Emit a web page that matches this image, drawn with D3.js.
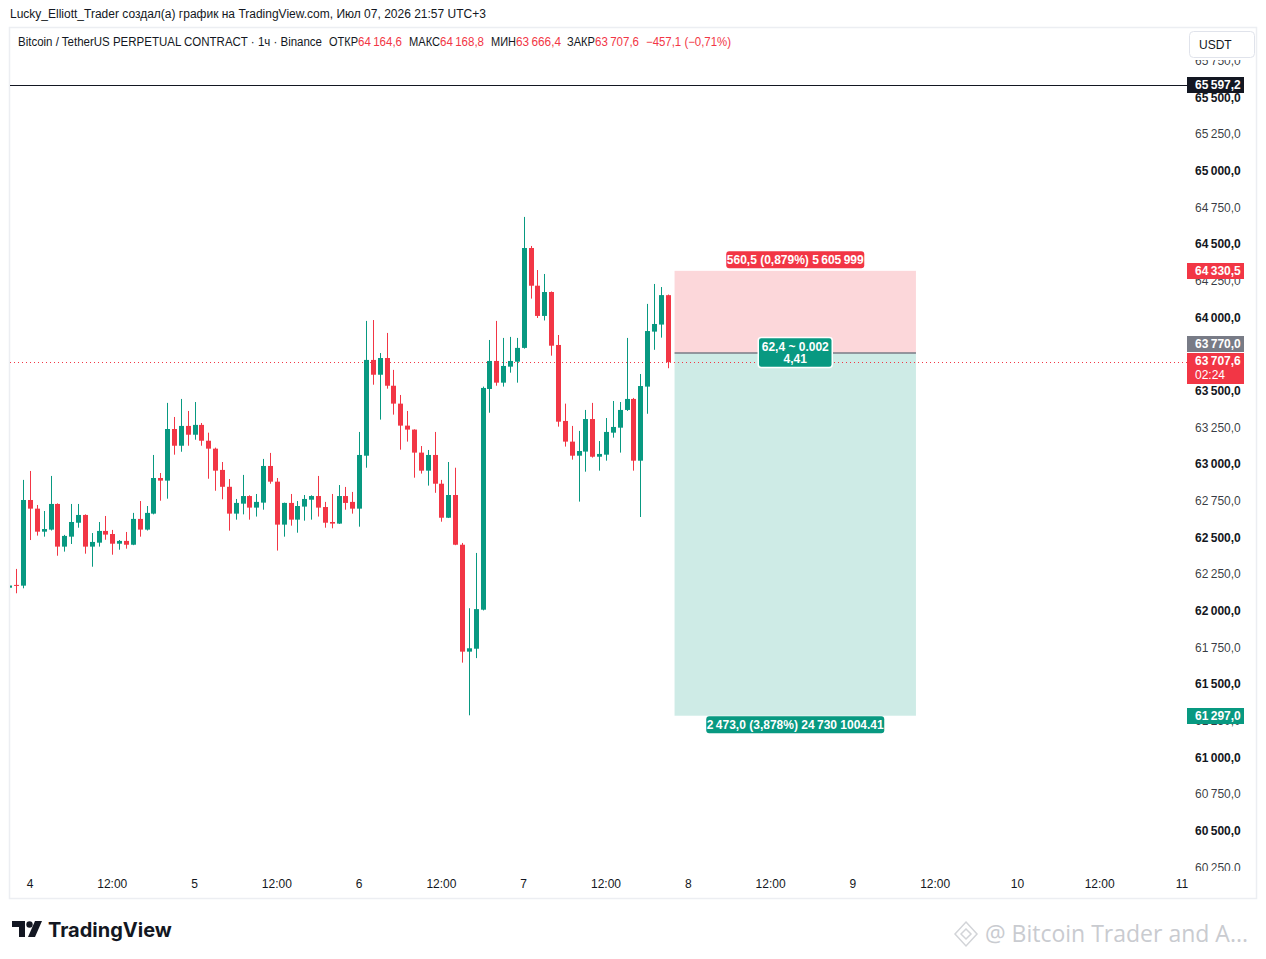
<!DOCTYPE html>
<html>
<head>
<meta charset="utf-8">
<script src="https://cdn.jsdelivr.net/npm/d3@7"></script>
<style>
  body { margin: 0; background: #fff; }
  text { font-family: "Liberation Sans", "Noto Sans", sans-serif; }
</style>
</head>
<body>
<div id="chart"></div>
<script>
// hourly BTCUSDT.P candles, first bar = 3 Jul 2026 21:00
let firstBar = Date.UTC(2026, 6, 3, 21)
let openP = [62170, 62189, 62184, 62768, 62709, 62552, 62566, 62741, 62450, 62518,
  62613, 62666, 62450, 62477, 62557, 62536, 62470, 62489, 62463, 62639,
  62566, 62675, 62918, 62900, 63252, 63138, 63273, 63213, 63280, 63172,
  63118, 62973, 62858, 62675, 62743, 62795, 62716, 62750, 63000, 62893,
  62600, 62748, 62634, 62723, 62770, 62795, 62720, 62618, 62607, 62795,
  62755, 62709, 63070, 63723, 63622, 63736, 63547, 63425, 63275, 63248,
  63091, 62968, 63075, 62879, 62647, 62802, 62463, 61734, 61754, 62020,
  63525, 63716, 63568, 63677, 63711, 63805, 64486, 64229, 64023, 64186,
  63825, 63307, 63166, 63070, 63098, 63320, 63063, 63077, 63227, 63261,
  63382, 63457, 63036, 63541, 63916, 63964, 64164.6]
let highP = [62190, 62298, 62905, 62966, 62734, 62693, 62932, 62745, 62530, 62741,
  62741, 62670, 62543, 62618, 62659, 62564, 62495, 62550, 62680, 62761,
  62727, 63075, 62952, 63430, 63334, 63457, 63375, 63436, 63293, 63227,
  63125, 63027, 62911, 62775, 62939, 62800, 62809, 63048, 63089, 62918,
  62750, 62809, 62761, 62802, 62800, 62932, 62755, 62809, 62870, 62857,
  62823, 63232, 63989, 63995, 63770, 63907, 63655, 63484, 63375, 63250,
  63136, 63109, 63232, 62905, 63027, 62988, 62475, 62030, 62407, 63541,
  63859, 63989, 63873, 63880, 63873, 64698, 64500, 64336, 64309, 64190,
  63893, 63425, 63273, 63239, 63382, 63430, 63170, 63327, 63443, 63436,
  63873, 63464, 63627, 64105, 64241, 64220, 64168.8]
let lowP = [62165, 62132, 62166, 62495, 62525, 62518, 62560, 62388, 62416, 62468,
  62579, 62402, 62313, 62450, 62497, 62395, 62429, 62436, 62460, 62518,
  62560, 62670, 62763, 62777, 63077, 63097, 63138, 63179, 63138, 62913,
  62831, 62773, 62559, 62634, 62670, 62634, 62655, 62702, 62879, 62423,
  62518, 62593, 62545, 62627, 62634, 62655, 62579, 62575, 62605, 62702,
  62675, 62586, 62988, 63554, 63316, 63527, 63350, 63111, 63166, 62920,
  62948, 62866, 62817, 62620, 62645, 62460, 61659, 61300, 61690, 62015,
  63363, 63547, 63541, 63636, 63568, 63800, 64141, 64009, 63992, 63752,
  63268, 63132, 63043, 62757, 62961, 63057, 62968, 63036, 63193, 63091,
  63375, 62968, 62652, 63356, 63792, 63875, 63666.4]
let closeP = [62185, 62184, 62768, 62709, 62552, 62570, 62741, 62450, 62523, 62618,
  62666, 62450, 62482, 62557, 62532, 62470, 62489, 62463, 62639, 62566,
  62680, 62918, 62900, 63252, 63138, 63273, 63213, 63280, 63172, 63118,
  62968, 62858, 62675, 62748, 62795, 62716, 62755, 63000, 62893, 62600,
  62748, 62634, 62727, 62775, 62795, 62716, 62613, 62607, 62795, 62748,
  62709, 63075, 63723, 63622, 63736, 63547, 63425, 63275, 63248, 63091,
  62968, 63075, 62879, 62647, 62802, 62463, 61734, 61757, 62024, 63532,
  63716, 63568, 63682, 63716, 63805, 64486, 64229, 64023, 64186, 63820,
  63302, 63166, 63070, 63102, 63320, 63063, 63082, 63232, 63266, 63382,
  63457, 63036, 63545, 63920, 63968, 64165, 63707.6]

// price axis ticks (63 750 sits fully under the price tags) and time axis labels
let priceTicks = [65750, 65500, 65250, 65000, 64750, 64500, 64250, 64000, 63500,
  63250, 63000, 62750, 62500, 62250, 62000, 61750, 61500, 61250, 61000,
  60750, 60500, 60250]
let timeTicks = [[4, 0, '4'], [4, 12, '12:00'], [5, 0, '5'], [5, 12, '12:00'], [6, 0, '6'],
  [6, 12, '12:00'], [7, 0, '7'], [7, 12, '12:00'], [8, 0, '8'], [8, 12, '12:00'],
  [9, 0, '9'], [9, 12, '12:00'], [10, 0, '10'], [10, 12, '12:00'], [11, 0, '11']]

// short position tool
let entryP = 63770.0
let stopP = 64330.5
let targetP = 61297.0
let posStart = Date.UTC(2026, 6, 7, 22)
let posEnd = Date.UTC(2026, 6, 9, 9, 12)
let hLine = 65597.2
let lastP = 63707.6

let green = '#089981'
let red = '#f23645'
let W = 1266
let H = 959
let plotL = 10
let plotR = 1187

let locale = d3.formatLocale({ decimal: ',', thousands: '\u2009', grouping: [3] })
let fmt = locale.format(',.1f')

let x = d3.scaleUtc()
  .domain([Date.UTC(2026, 6, 4), Date.UTC(2026, 6, 11)])
  .range([30, 1182])
let y = d3.scaleLinear()
  .domain([60250, 65500])
  .range([869.3, 99.3])

let bars = openP.map((o, i) => ({
  t: firstBar + i * 3600000, o: o, h: highP[i], l: lowP[i], c: closeP[i]
}))

let svg = d3.select('#chart').append('svg')
  .attr('width', W).attr('height', H)

svg.append('rect').attr('width', W).attr('height', H).attr('fill', '#fff')

// title line
svg.append('text').attr('x', 10).attr('y', 18)
  .attr('font-size', 12).attr('fill', '#131722')
  .text('Lucky_Elliott_Trader создал(а) график на TradingView.com, Июл 07, 2026 21:57 UTC+3')

// chart frame
svg.append('rect').attr('x', 9.5).attr('y', 27.5).attr('width', 1247).attr('height', 871)
  .attr('fill', 'none').attr('stroke', '#eceef2').attr('stroke-width', 1.5)

let defs = svg.append('defs')
defs.append('clipPath').attr('id', 'plotClip').append('rect')
  .attr('x', plotL).attr('y', 28).attr('width', plotR - plotL).attr('height', 842)
defs.append('clipPath').attr('id', 'axisClip').append('rect')
  .attr('x', plotR).attr('y', 60).attr('width', 70).attr('height', 811)

let plot = svg.append('g').attr('clip-path', 'url(#plotClip)')

// position zones
let px0 = x(posStart)
let px1 = x(posEnd)
plot.append('rect').attr('x', px0).attr('y', y(stopP))
  .attr('width', px1 - px0).attr('height', y(entryP) - y(stopP))
  .attr('fill', red).attr('fill-opacity', 0.2)
plot.append('rect').attr('x', px0).attr('y', y(entryP))
  .attr('width', px1 - px0).attr('height', y(targetP) - y(entryP))
  .attr('fill', green).attr('fill-opacity', 0.2)
plot.append('line').attr('x1', px0).attr('x2', px1)
  .attr('y1', y(entryP)).attr('y2', y(entryP))
  .attr('stroke', '#787b86').attr('stroke-width', 1.5)

// horizontal line + last price line
plot.append('line').attr('x1', plotL).attr('x2', plotR)
  .attr('y1', Math.round(y(hLine)) + 0.5).attr('y2', Math.round(y(hLine)) + 0.5)
  .attr('stroke', '#131722').attr('stroke-width', 1)
plot.append('line').attr('x1', plotL).attr('x2', plotR)
  .attr('y1', Math.round(y(lastP)) + 0.5).attr('y2', Math.round(y(lastP)) + 0.5)
  .attr('stroke', red).attr('stroke-width', 1).attr('stroke-dasharray', '1,3')

// candles
let bw = 5
let cg = plot.selectAll('g.bar').data(bars).enter().append('g')
  .attr('class', 'bar')
cg.append('line')
  .attr('x1', d => Math.round(x(d.t)) + 0.5).attr('x2', d => Math.round(x(d.t)) + 0.5)
  .attr('y1', d => y(d.h)).attr('y2', d => y(d.l))
  .attr('stroke', d => d.c >= d.o ? green : red).attr('stroke-width', 1)
cg.append('rect')
  .attr('x', d => Math.round(x(d.t)) + 0.5 - bw / 2)
  .attr('y', d => y(Math.max(d.o, d.c)))
  .attr('width', bw)
  .attr('height', d => Math.max(1, Math.abs(y(d.o) - y(d.c))))
  .attr('fill', d => d.c >= d.o ? green : red)

// position labels
function tag(g, cx, cy, lines, bg, w, h, border) {
  g.append('rect').attr('x', cx - w / 2).attr('y', cy - h / 2)
    .attr('width', w).attr('height', h).attr('rx', 3)
    .attr('fill', bg)
    .attr('stroke', border || 'none').attr('stroke-width', 1.5)
  lines.forEach((s, i) => {
    g.append('text').attr('x', cx).attr('y', cy + (i - (lines.length - 1) / 2) * 12)
      .attr('dy', '0.36em').attr('text-anchor', 'middle')
      .attr('font-size', 12).attr('font-weight', 'bold').attr('fill', '#fff')
      .text(s)
  })
}
let pcx = (px0 + px1) / 2
tag(svg, pcx, y(stopP) - 11, ['560,5 (0,879%) 5\u2009605\u2009999'], red, 138, 17)
tag(svg, pcx, y(entryP) - 0.5, ['62,4 ~ 0.002', '4,41'], green, 74, 30, '#fff')
tag(svg, pcx, y(targetP) + 9, ['2\u2009473,0 (3,878%) 24\u2009730 1004.41'], green, 178, 17)

// price axis
let ax = svg.append('g').attr('clip-path', 'url(#axisClip)')
ax.selectAll('text.tick').data(priceTicks).enter().append('text')
  .attr('class', 'tick')
  .attr('x', 1195).attr('y', d => y(d) - 2)
  .attr('dy', '0.36em')
  .attr('font-size', 12)
  .attr('fill', '#131722')
  .attr('font-weight', (d) => d % 500 === 0 ? 'bold' : 'normal')
  .attr('fill-opacity', (d) => d % 500 === 0 ? 1 : 0.85)
  .text(d => fmt(d))

// shift = how far the tag is pushed to avoid its neighbour
function priceTag(p, bg, txt, sub, shift) {
  let cy = Math.round(y(p)) + (shift || 0)
  let h = sub ? 31 : 16
  ax.append('rect').attr('x', plotR).attr('y', cy - 8)
    .attr('width', 57).attr('height', h).attr('fill', bg)
  ax.append('text').attr('x', 1195).attr('y', cy).attr('dy', '0.36em')
    .attr('font-size', 12).attr('font-weight', 'bold').attr('fill', '#fff').text(txt)
  if (sub) {
    ax.append('text').attr('x', 1195).attr('y', cy + 14).attr('dy', '0.36em')
      .attr('font-size', 12).attr('fill', '#fff').text(sub)
  }
}
priceTag(hLine, '#131722', fmt(hLine))
priceTag(stopP, red, fmt(stopP))
priceTag(entryP, '#787b86', fmt(entryP), null, -9)
priceTag(lastP, red, fmt(lastP), '02:24', -1)
priceTag(targetP, green, fmt(targetP))

// currency button
svg.append('rect').attr('x', 1189.5).attr('y', 31.5).attr('width', 65).attr('height', 26)
  .attr('rx', 4).attr('fill', '#fff').attr('stroke', '#e0e3eb')
svg.append('text').attr('x', 1199).attr('y', 44.5).attr('dy', '0.36em')
  .attr('font-size', 12).attr('fill', '#131722').text('USDT')

// time axis
svg.selectAll('text.tt').data(timeTicks).enter().append('text')
  .attr('class', 'tt')
  .attr('x', d => x(Date.UTC(2026, 6, d[0], d[1])))
  .attr('y', 884).attr('dy', '0.36em')
  .attr('text-anchor', 'middle')
  .attr('font-size', 12).attr('fill', '#131722')
  .text(d => d[2])

// legend line (parts placed where the reference has them)
let legParts = [
  ['Bitcoin / TetherUS PERPETUAL CONTRACT · 1ч · Binance', '#131722', 18, 304],
  ['ОТКР', '#131722', 329, 29], ['64\u2009164,6', red, 358, 44],
  ['МАКС', '#131722', 409, 31], ['64\u2009168,8', red, 440, 44],
  ['МИН', '#131722', 491, 25], ['63\u2009666,4', red, 516, 45],
  ['ЗАКР', '#131722', 567, 28], ['63\u2009707,6', red, 595, 44],
  ['−457,1 (−0,71%)', red, 646, 85]
]
svg.selectAll('text.leg').data(legParts).enter().append('text')
  .attr('class', 'leg')
  .attr('x', d => d[2]).attr('y', 42).attr('dy', '0.36em')
  .attr('font-size', 12).attr('fill', d => d[1])
  .attr('textLength', d => d[3]).attr('lengthAdjust', 'spacingAndGlyphs')
  .text(d => d[0])

// footer logo
let logo = svg.append('g').attr('fill', '#131722')
logo.append('path').attr('d', 'M12,921 h13 v16 h-6 v-10 h-7 z')
logo.append('circle').attr('cx', 29.5).attr('cy', 924.5).attr('r', 3.2)
logo.append('path').attr('d', 'M35,921 h7 l-7,16 h-7 z')
svg.append('text').attr('x', 48).attr('y', 937)
  .attr('font-size', 20).attr('font-weight', 'bold').attr('fill', '#131722')
  .style('font-family', 'Inter, "Noto Sans", sans-serif')
  .text('TradingView')

// watermark
let wm = svg.append('g').attr('fill', 'none').attr('stroke', '#d2d4d8').attr('stroke-width', 1.5)
wm.append('path').attr('d', 'M966,922 l11,12 l-11,12 l-11,-12 z')
wm.append('path').attr('d', 'M966,929 l5,5 l-5,5 l-5,-5 z')
svg.append('text').attr('x', 985).attr('y', 942)
  .attr('font-size', 23).attr('fill', '#c9cbd0')
  .style('font-family', '"Open Sans", sans-serif')
  .text('@ Bitcoin Trader and A...')
</script>
</body>
</html>
